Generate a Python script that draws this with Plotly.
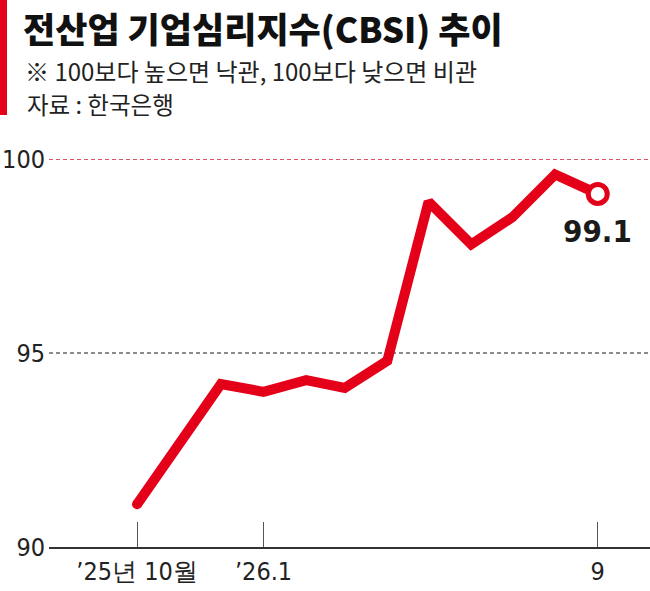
import plotly.graph_objects as go

# ---- data ----
months = ["2025-10-01", "2025-11-01", "2025-12-01", "2026-01-01", "2026-02-01", "2026-03-01",
          "2026-04-01", "2026-05-01", "2026-06-01", "2026-07-01", "2026-08-01", "2026-09-01"]
cbsi = [91.1, 92.7, 94.2, 94.0, 94.3, 94.1, 94.8, 98.9, 97.8, 98.5, 99.6, 99.1]
tick_months = ["2025-10-01", "2026-01-01", "2026-09-01"]
tick_labels = ["\u201925\ub144 10\uc6d4", "\u201926.1", "9"]
y_ticks = [90, 95, 100]
y_tick_labels = ["90", "95", "100"]
ref_lines = [95, 100]

W, H = 650, 591
L, R, T, B = 49, 0, 159, 44
plot_h = H - T - B

RED = "#e50019"
NUM_FONT = "DejaVu Sans Condensed, Liberation Sans Narrow, sans-serif"
KR_FONT = "Noto Sans CJK KR, sans-serif"

n = len(cbsi)
sizes = [10] + [0] * (n - 2) + [19]
fills = [RED] * (n - 1) + ["white"]
lw = [0] * (n - 1) + [5]

fig = go.Figure()
fig.add_trace(go.Scatter(
    x=months, y=cbsi, mode="lines+markers",
    line=dict(color=RED, width=10),
    marker=dict(size=sizes, color=fills, line=dict(color=RED, width=lw), opacity=1),
    hoverinfo="skip", showlegend=False, cliponaxis=False,
))

for v in ref_lines:
    fig.add_hline(y=v, line=dict(color="#d81a2c" if v == 100 else "#666666", width=1.4, dash="4px,3px"),
                  layer="below")

def py(p):
    return (H - B - p) / plot_h

def px(p):
    return (p - L) / (W - L - R)

fig.add_annotation(x=months[-1], y=cbsi[-1], text=f"<b>{cbsi[-1]}</b>", showarrow=False,
                   yshift=-37, xanchor="center", yanchor="middle",
                   font=dict(family=NUM_FONT, size=31, color="#1a1a1a"))

fig.add_annotation(xref="paper", yref="paper", x=px(21), y=py(0.5),
                   text="\uc804\uc0b0\uc5c5 \uae30\uc5c5\uc2ec\ub9ac\uc9c0\uc218(CBSI) \ucd94\uc774",
                   showarrow=False, xanchor="left", yanchor="top",
                   font=dict(family=KR_FONT, size=35, color="#111111", weight=900))
fig.add_annotation(xref="paper", yref="paper", x=px(23), y=py(71),
                   text="\u203b 100\ubcf4\ub2e4 \ub192\uc73c\uba74 \ub099\uad00, 100\ubcf4\ub2e4 \ub0ae\uc73c\uba74 \ube44\uad00",
                   showarrow=False, xanchor="left", yanchor="middle",
                   font=dict(family=KR_FONT, size=24, color="#222222"))
fig.add_annotation(xref="paper", yref="paper", x=px(25), y=py(104),
                   text="\uc790\ub8cc : \ud55c\uad6d\uc740\ud589",
                   showarrow=False, xanchor="left", yanchor="middle",
                   font=dict(family=KR_FONT, size=23.5, color="#222222"))

fig.add_shape(type="rect", xref="paper", yref="paper", x0=px(0), x1=px(7), y0=py(115), y1=py(0),
              fillcolor=RED, line=dict(width=0))

fig.update_layout(
    width=W, height=H,
    margin=dict(l=L, r=R, t=T, b=B, pad=0, autoexpand=False),
    paper_bgcolor="white", plot_bgcolor="white",
    xaxis=dict(type="date", range=["2025-07-29", "2026-10-09"], automargin=False,
               tickvals=tick_months, ticktext=tick_labels,
               ticks="inside", ticklen=25, tickwidth=1, tickcolor="#555555",
               showline=True, linecolor="#333333", linewidth=1.5,
               showgrid=False, zeroline=False, ticklabelstandoff=1,
               tickfont=dict(family=NUM_FONT, size=25, color="#222222")),
    yaxis=dict(range=[90, 100], tickvals=y_ticks, ticktext=y_tick_labels, automargin=False,
               showgrid=False, zeroline=False, showline=False, ticks="",
               ticklabelstandoff=3,
               tickfont=dict(family=NUM_FONT, size=25, color="#222222")),
)

fig.write_html("out.html", config={"displayModeBar": False, "staticPlot": True},
               post_script="document.body.style.margin='0';document.body.style.overflow='hidden';")
